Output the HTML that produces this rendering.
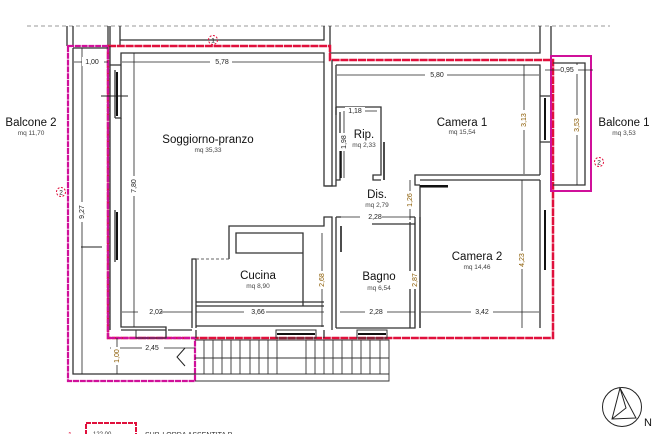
<!DOCTYPE html>
<html><head><meta charset="utf-8"><style>
html,body{margin:0;padding:0;background:#fff;}
svg{display:block;font-family:"Liberation Sans",sans-serif;}
.w{fill:none;stroke:#333;stroke-width:1.3}
.d{fill:none;stroke:#222;stroke-width:0.8}
.t{font-size:11.5px;fill:#111;text-anchor:middle}
.s{font-size:6.5px;fill:#444;text-anchor:middle}
.n{font-size:7px;fill:#222;text-anchor:middle}
</style></head><body>
<svg width="658" height="434" viewBox="0 0 658 434" xmlns="http://www.w3.org/2000/svg">
<line x1="27" y1="26" x2="610" y2="26" stroke="#999" stroke-width="1" stroke-dasharray="4,3"/>
<path class="w" d="M67 26V46 M73 26V46 M108 26V46 M120 26V46 M110 26V46 M120 40H324V26 M330 26V53H540V26 M551 26V56"/>
<path d="M108 46H330V60H553V338H108Z" fill="none" stroke="#e0103c" stroke-width="2.5" stroke-dasharray="8,0.8"/>
<path d="M68 46H108V338H195V381H68Z" fill="none" stroke="#d0109a" stroke-width="2.2" stroke-dasharray="6,0.8"/>
<path d="M551 56H591V191H551Z" fill="none" stroke="#d0109a" stroke-width="2"/>
<path class="w" d="M553 63H585V185H553"/>
<path class="w" d="M73 48V374H195 M73 48H108"/>
<path class="w" d="M121 65V53H324V186H332V60 M121 65H110 M110 46V330 M121 65V70 M115 70V118 M115 210V262 M121 262V327H166V338 M121 118V210"/>
<path class="w" d="M121 70V118H115 M121 210V262"/>
<line x1="101" y1="96" x2="128" y2="96" stroke="#222" stroke-width="1"/>
<line x1="81" y1="247" x2="102" y2="247" stroke="#222" stroke-width="1"/>
<line x1="117" y1="72" x2="117" y2="116" stroke="#111" stroke-width="2"/>
<line x1="117" y1="212" x2="117" y2="260" stroke="#111" stroke-width="2"/>
<path class="w" d="M336 65V115 M336 65H540V175 M540 65V96H550 M540 142H550 M540 175H415V185H420 M420 185V328 M540 180V328 M540 180H420"/>
<line x1="545" y1="98" x2="545" y2="140" stroke="#111" stroke-width="2"/>
<line x1="545" y1="210" x2="545" y2="270" stroke="#111" stroke-width="2"/>
<path class="w" d="M420 187H448"/>
<line x1="420" y1="186" x2="448" y2="186" stroke="#111" stroke-width="2"/>
<path class="w" d="M336 107H381V175H373V180H381 M336 107V186H325 M340 112V180H336 M381 107V112"/>
<line x1="384" y1="142" x2="384" y2="180" stroke="#111" stroke-width="1.5"/>
<line x1="341" y1="146" x2="341" y2="178" stroke="#111" stroke-width="1.5"/>
<path class="w" d="M192 328V259H196V328 M229 259V226H324V217H332V330 M229 226V259 M236 233H303V253H236Z M303 233V306 M196 306H324 M196 302H324 M196 326H324"/>
<line x1="196" y1="259" x2="229" y2="259" stroke="#666" stroke-dasharray="3,2"/>
<path class="w" d="M336 217V328 M336 217H341 M336 328H415V217 M410 217H415 M410 328V222 M372 224H415 M420 217V328"/>
<line x1="341" y1="226" x2="341" y2="252" stroke="#111" stroke-width="1.5"/>
<path class="w" d="M121 330H166 M168 330H192 M196 330V338 M324 330V338"/>
<rect x="136" y="330" width="30" height="8" fill="none" stroke="#333"/>
<rect x="276" y="330" width="40" height="8" fill="none" stroke="#333"/>
<rect x="357" y="330" width="30" height="8" fill="none" stroke="#333"/>
<line x1="277" y1="334" x2="315" y2="334" stroke="#111" stroke-width="2"/>
<line x1="358" y1="334" x2="386" y2="334" stroke="#111" stroke-width="2"/>
<g stroke="#333" stroke-width="0.9">
<path fill="none" d="M195 340H389V381H195 M195 358H389 M195 374H389"/>
<line x1="204" y1="340" x2="204" y2="374"/><line x1="213" y1="340" x2="213" y2="374"/><line x1="222" y1="340" x2="222" y2="374"/><line x1="231" y1="340" x2="231" y2="374"/><line x1="240" y1="340" x2="240" y2="374"/><line x1="250" y1="340" x2="250" y2="374"/><line x1="259" y1="340" x2="259" y2="374"/><line x1="268" y1="340" x2="268" y2="374"/><line x1="277" y1="340" x2="277" y2="374"/>
<line x1="306" y1="340" x2="306" y2="374"/><line x1="315" y1="340" x2="315" y2="374"/><line x1="324" y1="340" x2="324" y2="374"/><line x1="333" y1="340" x2="333" y2="374"/><line x1="342" y1="340" x2="342" y2="374"/><line x1="352" y1="340" x2="352" y2="374"/><line x1="361" y1="340" x2="361" y2="374"/><line x1="370" y1="340" x2="370" y2="374"/><line x1="380" y1="340" x2="380" y2="374"/>
</g>
<path d="M185 348L177 357L185 366" fill="none" stroke="#222"/>
<g class="d">
<line x1="74" y1="62" x2="108" y2="62"/><line x1="122" y1="62" x2="324" y2="62"/><line x1="337" y1="75" x2="539" y2="75"/>
<line x1="82" y1="48" x2="82" y2="374"/><line x1="134" y1="53" x2="134" y2="327"/>
<line x1="524" y1="65" x2="524" y2="174"/><line x1="577" y1="63" x2="577" y2="185"/>
<line x1="345" y1="111" x2="377" y2="111"/><line x1="344" y1="111" x2="344" y2="178"/>
<line x1="410" y1="180" x2="410" y2="220"/><line x1="337" y1="217" x2="410" y2="217"/>
<line x1="415" y1="222" x2="415" y2="327"/><line x1="322" y1="233" x2="322" y2="327"/>
<line x1="522" y1="180" x2="522" y2="328"/>
<line x1="122" y1="312" x2="192" y2="312"/><line x1="196" y1="312" x2="324" y2="312"/><line x1="340" y1="312" x2="415" y2="312"/><line x1="421" y1="312" x2="539" y2="312"/>
<line x1="110" y1="348" x2="195" y2="348"/><line x1="117" y1="338" x2="117" y2="374"/>
<line x1="545" y1="70" x2="593" y2="70"/>
</g>
<g class="n">
<rect x="82" y="57" width="22" height="9" fill="#fff"/><text x="92" y="64">1,00</text>
<rect x="210" y="57" width="22" height="9" fill="#fff"/><text x="222" y="64">5,78</text>
<rect x="425" y="70" width="22" height="9" fill="#fff"/><text x="437" y="77">5,80</text>
<rect x="560" y="65" width="18" height="9" fill="#fff"/><text x="567" y="72">0,95</text>
<rect x="345" y="107" width="20" height="9" fill="#fff"/><text x="355" y="113">1,18</text>
<rect x="360" y="212" width="22" height="9" fill="#fff"/><text x="375" y="219">2,28</text>
<rect x="138" y="307" width="22" height="9" fill="#fff"/><text x="156" y="314">2,02</text>
<rect x="244" y="307" width="22" height="9" fill="#fff"/><text x="258" y="314">3,66</text>
<rect x="365" y="307" width="22" height="9" fill="#fff"/><text x="376" y="314">2,28</text>
<rect x="471" y="307" width="22" height="9" fill="#fff"/><text x="482" y="314">3,42</text>
<rect x="142" y="343" width="22" height="9" fill="#fff"/><text x="152" y="350">2,45</text>
</g>
<g class="n">
<g transform="translate(82,212) rotate(-90)"><rect x="-10" y="-6" width="20" height="9" fill="#fff"/><text y="2">9,27</text></g>
<g transform="translate(134,186) rotate(-90)"><rect x="-10" y="-6" width="20" height="9" fill="#fff"/><text y="2">7,80</text></g>
<g transform="translate(524,120) rotate(-90)"><rect x="-10" y="-6" width="20" height="9" fill="#fff"/><text y="2" fill="#8a5a00">3,13</text></g>
<g transform="translate(577,125) rotate(-90)"><rect x="-10" y="-6" width="20" height="9" fill="#fff"/><text y="2" fill="#8a5a00">3,53</text></g>
<g transform="translate(344,142) rotate(-90)"><rect x="-9" y="-6" width="18" height="9" fill="#fff"/><text y="2">1,98</text></g>
<g transform="translate(410,200) rotate(-90)"><rect x="-9" y="-6" width="18" height="9" fill="#fff"/><text y="2" fill="#8a5a00">1,26</text></g>
<g transform="translate(322,280) rotate(-90)"><rect x="-9" y="-6" width="18" height="9" fill="#fff"/><text y="2" fill="#8a5a00">2,68</text></g>
<g transform="translate(415,280) rotate(-90)"><rect x="-9" y="-6" width="18" height="9" fill="#fff"/><text y="2" fill="#8a5a00">2,87</text></g>
<g transform="translate(522,260) rotate(-90)"><rect x="-9" y="-6" width="18" height="9" fill="#fff"/><text y="2" fill="#8a5a00">4,23</text></g>
<g transform="translate(117,356) rotate(-90)"><rect x="-9" y="-6" width="18" height="9" fill="#fff"/><text y="2" fill="#8a5a00">1,00</text></g>
</g>
<g fill="none" stroke="#e0103c" stroke-dasharray="2,1.5"><circle cx="213" cy="40" r="4.5"/><circle cx="61" cy="192" r="4.5"/><circle cx="599" cy="162" r="4.5"/></g>
<g font-size="6.5px" fill="#111" text-anchor="middle"><text x="213" y="42.5">1</text><text x="61" y="194.5">2</text><text x="599" y="164.5">2</text></g>
<text class="t" x="31" y="126">Balcone 2</text><text class="s" x="31" y="135">mq 11,70</text>
<text class="t" x="208" y="143">Soggiorno-pranzo</text><text class="s" x="208" y="152">mq 35,33</text>
<text class="t" x="364" y="138">Rip.</text><text class="s" x="364" y="147">mq 2,33</text>
<text class="t" x="462" y="126">Camera 1</text><text class="s" x="462" y="134">mq 15,54</text>
<text class="t" x="624" y="126">Balcone 1</text><text class="s" x="624" y="135">mq 3,53</text>
<text class="t" x="377" y="198">Dis.</text><text class="s" x="377" y="207">mq 2,79</text>
<text class="t" x="258" y="279">Cucina</text><text class="s" x="258" y="288">mq 8,90</text>
<text class="t" x="379" y="280">Bagno</text><text class="s" x="379" y="290">mq 6,54</text>
<text class="t" x="477" y="260">Camera 2</text><text class="s" x="477" y="269">mq 14,46</text>
<circle cx="622" cy="407" r="19.5" fill="none" stroke="#222"/>
<path d="M620 388L612 419L636 418Z M620 388L626 408L612 419" fill="none" stroke="#222"/>
<text x="644" y="426" font-size="11px" fill="#111">N</text>
<rect x="86" y="423" width="50" height="16" fill="none" stroke="#e0103c" stroke-width="2" stroke-dasharray="5,1"/>
<text x="68" y="437" font-size="7px" fill="#e0103c">1</text>
<text x="93" y="436" font-size="6px" fill="#333">122,00</text>
<text x="145" y="437" font-size="7px" fill="#333">SUP. LORDA ASSENTITA P.</text>
</svg>
</body></html>
